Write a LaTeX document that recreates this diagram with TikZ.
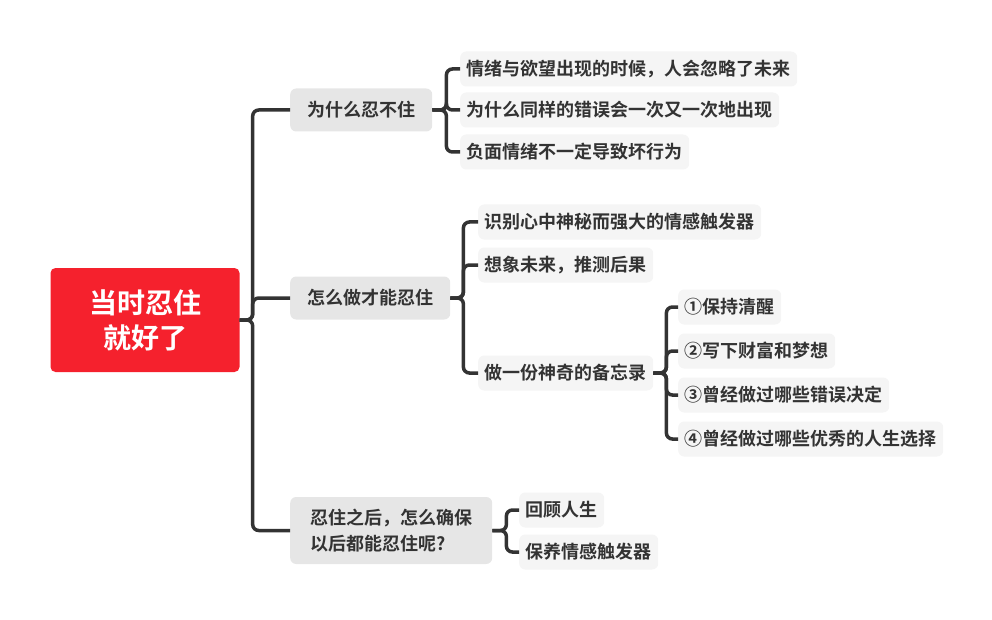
\documentclass[tikz,border=0pt]{standalone}
\usepackage{fontspec}
\setmainfont{Noto Sans CJK SC}[BoldFont={* Bold}]
\usepackage{tikz}
\usetikzlibrary{positioning}
\definecolor{rootred}{HTML}{F5212D}
\definecolor{inkgrey}{HTML}{333333}
\definecolor{midfill}{HTML}{E6E6E6}
\definecolor{leaffill}{HTML}{F5F5F5}

\begin{document}
\begin{tikzpicture}[x=1pt, y=-1pt, font=\bfseries,
		root/.style={fill=rootred, text=white, rounded corners=5pt, minimum width=189pt, minimum height=104pt, align=center, font=\fontsize{28}{35}\selectfont\bfseries},
		mid/.style={fill=midfill, text=inkgrey, rounded corners=6pt, anchor=west, inner xsep=17pt, minimum height=43pt, align=left, text height=15.3pt, text depth=3.2pt, font=\fontsize{18}{26}\selectfont\bfseries},
		leaf/.style={fill=leaffill, text=inkgrey, rounded corners=6pt, anchor=west, inner xsep=6.5pt, inner ysep=0pt, minimum height=35pt, text height=15.3pt, text depth=3.2pt, font=\fontsize{18}{22}\selectfont\bfseries},
		link/.style={draw=inkgrey, line width=3.5pt, rounded corners=6pt}]
	\useasboundingbox (0,0) rectangle (992,620);

	\node[root] (root) at (145,320) {当时忍住\\就好了};

	\node[mid] (why) at (290,110) {为什么忍不住};
	\node[mid] (how) at (290,298) {怎么做才能忍住};
	\node[mid, text height=, text depth=, minimum height=67pt, minimum width=202pt] (after) at (290,530.5) {忍住之后，怎么确保\\以后都能忍住呢?};

	\node[leaf] (why1) at (460,69) {情绪与欲望出现的时候，人会忽略了未来};
	\node[leaf] (why2) at (460,110) {为什么同样的错误会一次又一次地出现};
	\node[leaf] (why3) at (460,152) {负面情绪不一定导致坏行为};

	\node[leaf] (how1) at (478,222) {识别心中神秘而强大的情感触发器};
	\node[leaf] (how2) at (478,265) {想象未来，推测后果};
	\node[leaf] (memo) at (478,373) {做一份神奇的备忘录};

	\node[leaf] (memo1) at (678,307) {①保持清醒};
	\node[leaf] (memo2) at (678,351) {②写下财富和梦想};
	\node[leaf] (memo3) at (678,395) {③曾经做过哪些错误决定};
	\node[leaf] (memo4) at (678,439) {④曾经做过哪些优秀的人生选择};

	\node[leaf] (after1) at (519,510) {回顾人生};
	\node[leaf] (after2) at (519,552) {保养情感触发器};

	% root to the three main topics
	\foreach \t in {why,how,after}
		\draw[link] (root.east) -- ++(13,0) |- (\t.west);
	% sub topics
	\foreach \t in {why1,why2,why3}
		\draw[link] (why.east) -- ++(14,0) |- (\t.west);
	\foreach \t in {how1,how2,memo}
		\draw[link] (how.east) -- ++(13,0) |- (\t.west);
	\foreach \t in {memo1,memo2,memo3,memo4}
		\draw[link] (memo.east) -- ++(13,0) |- (\t.west);
	\foreach \t in {after1,after2}
		\draw[link] (after.east) -- ++(14,0) |- (\t.west);
\end{tikzpicture}
\end{document}
